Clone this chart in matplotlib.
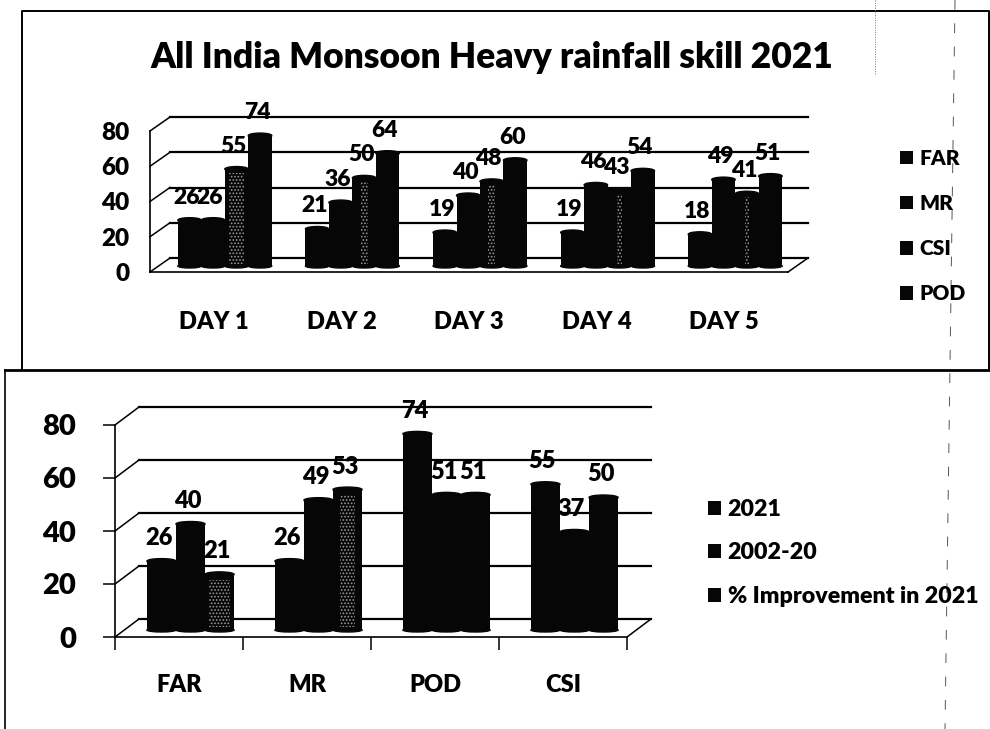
import matplotlib
matplotlib.use('Agg')
import matplotlib.pyplot as plt
from matplotlib.patches import Ellipse
from matplotlib.transforms import Affine2D

plt.rcParams['font.family'] = ['Lato', 'DejaVu Sans']
plt.rcParams['font.weight'] = 'heavy'
plt.rcParams['hatch.linewidth'] = 0.8

W, H = 990, 729

# top chart data
days = ['DAY 1', 'DAY 2', 'DAY 3', 'DAY 4', 'DAY 5']
far = [26, 21, 19, 19, 18]
mr = [26, 36, 40, 46, 49]
csi = [55, 50, 48, 43, 41]
pod = [74, 64, 60, 54, 51]

# bottom chart data
metrics = ['FAR', 'MR', 'POD', 'CSI']
y2021 = [26, 26, 74, 55]
y2002_20 = [40, 49, 51, 37]
improvement = [21, 53, 51, 50]

ticks = [0, 20, 40, 60, 80]


def draw_chart(rect, cats, series, names, speckle, depth, shift, bar_w, fs, tick_fs, cat_fs, cat_pad, tick_marks, tick_pad):
    # rect is left, top, right, bottom of the front plane in pixels
    l, t, r, b = rect
    ax = fig.add_axes([l / W, 1 - b / H, (r - l) / W, (b - t) / H])
    ax.set_xlim(-0.5, len(cats) - 0.5)
    ax.set_ylim(0, 80)
    ax.patch.set_visible(False)

    back = ax.transData + Affine2D().translate(depth[0], depth[1])
    front_bars = ax.transData + Affine2D().translate(shift[0], shift[1])
    x0, x1 = ax.get_xlim()

    # back wall gridlines and the slanted left side
    for v in ticks:
        ax.plot([x0, x1], [v, v], color='black', lw=1.6, transform=back, clip_on=False, zorder=1)
        x_px, y_px = ax.transData.transform((x0, v))
        ax.plot([x_px, x_px + depth[0]], [y_px, y_px + depth[1]], color='black', lw=1.1,
                transform=None, clip_on=False, zorder=1)
    # right end of the floor
    x_px, y_px = ax.transData.transform((x1, 0))
    ax.plot([x_px, x_px + depth[0]], [y_px, y_px + depth[1]], color='black', lw=1.1,
            transform=None, clip_on=False, zorder=1)

    n = len(series)
    handles = []
    for i, vals in enumerate(series):
        xs = [k + (i - (n - 1) / 2) * bar_w for k in range(len(cats))]
        bars = ax.bar(xs, vals, width=bar_w, color='#060606', transform=front_bars, clip_on=False,
                      zorder=3 + i, label=names[i])
        handles.append(bars)
        for x, v, sp in zip(xs, vals, speckle[i]):
            ax.add_patch(Ellipse((x, v), bar_w, 5 * 80 / (b - t), color='#060606', transform=front_bars,
                                 clip_on=False, zorder=3 + i))
            ax.add_patch(Ellipse((x, 0), bar_w, 4 * 80 / (b - t), color='#060606', transform=front_bars,
                                 clip_on=False, zorder=3 + i))
            if sp:
                ax.bar(x, v - 3, bottom=1, width=bar_w * sp, facecolor='none', edgecolor='#9a9a9a', hatch='.....',
                       lw=0, transform=front_bars, clip_on=False, zorder=3 + i)
            px = ax.transData.transform((x, v))
            ax.annotate(str(v), xy=(px[0] + shift[0] - 3, px[1] + shift[1]), xycoords='figure pixels',
                        xytext=(0, 23), textcoords='offset pixels', ha='center', va='center',
                        fontsize=fs, annotation_clip=False, zorder=20)

    ax.set_xticks([k for k in range(len(cats))])
    ax.set_xticklabels(cats, fontsize=cat_fs)
    ax.set_yticks(ticks)
    ax.tick_params(axis='y', labelsize=tick_fs, length=9 if tick_marks else 0, width=1.1, pad=tick_pad)
    ax.tick_params(axis='x', length=0, pad=cat_pad)
    if tick_marks:
        ax.set_xticks([k - 0.5 for k in range(len(cats) + 1)], minor=True)
        ax.tick_params(axis='x', which='minor', length=9, width=1.1)
    for s in ['top', 'right']:
        ax.spines[s].set_visible(False)
    for s in ['left', 'bottom']:
        ax.spines[s].set_linewidth(1.2)
    return ax, handles


fig = plt.figure(figsize=(W / 100, H / 100), dpi=100, facecolor='white')

# page background: boxes and the stray dashed lines of the scan
bg = fig.add_axes([0, 0, 1, 1])
bg.set_xlim(0, W)
bg.set_ylim(H, 0)
bg.axis('off')
bg.plot([22, 22, 989, 989], [370, 11, 11, 370], color='black', lw=1.4)
bg.plot([5, 990], [370, 370], color='black', lw=2)
bg.plot([5, 5], [370, 729], color='black', lw=1.2)
bg.plot([875, 875], [0, 75], color='#777777', lw=0.7, ls=(0, (1, 1.5)))
bg.plot([955, 945], [0, 729], color='#555555', lw=0.7, ls=(0, (10, 14)))

ax1, h1 = draw_chart((150, 131, 788, 272), days, [far, mr, csi, pod], ['FAR', 'MR', 'CSI', 'POD'],
                     [[0] * 5, [0] * 5, [0.6, 0.3, 0.3, 0.2, 0.2], [0] * 5],
                     (20, 14), (11, 6), 0.184, 16.5, 17.5, 17, 28, False, 15)
ax2, h2 = draw_chart((115, 425, 627, 637), metrics, [y2021, y2002_20, improvement],
                     ['2021', '2002-20', '% Improvement in 2021'],
                     [[0] * 4, [0] * 4, [0.7, 0.5, 0, 0]],
                     (24, 18), (11.5, 7), 0.227, 17, 21, 17, 27, True, 19)

fig.text(492 / W, 1 - 58 / H, 'All India Monsoon Heavy rainfall skill 2021', ha='center', va='center', fontsize=25.5)

leg1 = fig.legend(handles=h1, loc='upper left', bbox_to_anchor=(900 / W, 1 - 149 / H), frameon=False,
                  fontsize=15, handlelength=0.62, handleheight=0.62, handletextpad=0.33, labelspacing=1.25,
                  borderpad=0, borderaxespad=0)
leg2 = fig.legend(handles=h2, loc='upper left', bbox_to_anchor=(708 / W, 1 - 499 / H), frameon=False,
                  fontsize=16.7, handlelength=0.55, handleheight=0.55, handletextpad=0.3, labelspacing=0.97,
                  borderpad=0, borderaxespad=0)

fig.savefig('out.png', dpi=100)
plt.close()
